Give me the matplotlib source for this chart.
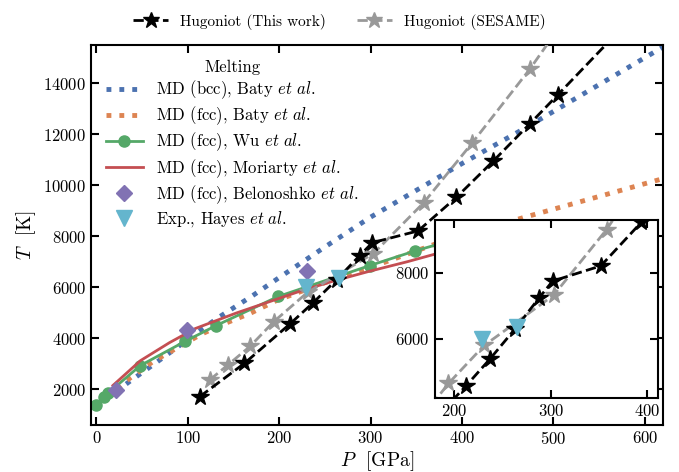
import numpy as np
import matplotlib
matplotlib.use("Agg")
import matplotlib.pyplot as plt

plt.rcParams['font.family'] = 'serif'
plt.rcParams['font.serif'] = ['cmr10', 'DejaVu Serif']
plt.rcParams['mathtext.fontset'] = 'cm'
plt.rcParams['axes.formatter.use_mathtext'] = True
plt.rcParams['font.size'] = 12

# colours (seaborn deep)
c_blue = '#4C72B0'
c_orange = '#DD8452'
c_green = '#55A868'
c_red = '#C44E52'
c_purple = '#8172B3'
c_cyan = '#64B5CD'
c_gray = '#999999'

# Hugoniot, this work
hug_P = [113, 162, 212, 237, 263, 288, 302, 352, 394, 434, 474, 505, 600]
hug_T = [1710, 3020, 4570, 5390, 6300, 7240, 7750, 8210, 9530, 10940, 12400, 13550, 17100]

# Hugoniot, SESAME
ses_P = [124, 144, 168, 194, 231, 303, 358, 411, 474, 540]
ses_T = [2370, 2960, 3680, 4650, 5800, 7320, 9310, 11650, 14540, 17900]

# melting: MD (bcc) Baty
bcc_P = [10, 36, 62, 87, 109, 135, 170, 200, 250, 300, 400, 472, 620]
bcc_T = [1600, 2300, 2960, 3610, 4200, 4850, 5650, 6380, 7580, 8750, 10850, 12300, 15420]

# melting: MD (fcc) Baty
fcc_P = [12, 36, 62, 115, 142, 169, 197, 250, 300, 372, 467, 620]
fcc_T = [1700, 2420, 3090, 4165, 4600, 4990, 5480, 6180, 6780, 7710, 8730, 10260]

# melting: MD (fcc) Wu
wu_P = [0, 8, 13, 48, 97, 131, 199, 299, 349, 400]
wu_T = [1380, 1690, 1860, 2930, 3880, 4500, 5640, 6850, 7430, 7950]

# melting: MD (fcc) Moriarty
mor_P = [18, 48, 80, 108, 153, 193, 223, 260, 299, 340, 372, 420]
mor_T = [2150, 3120, 3830, 4380, 4990, 5480, 5850, 6250, 6630, 7000, 7315, 7750]

# Belonoshko
bel_P = [21, 99, 230]
bel_T = [1990, 4320, 6630]

# Hayes experiment
hay_P = [229, 265]
hay_T = [6000, 6350]

fig = plt.figure(figsize=(6.79, 4.72), dpi=100)
ax = fig.add_axes([0.134, 0.0996, 0.8424, 0.8051])

ax.plot(bcc_P, bcc_T, ':', color=c_blue, lw=3.5, label=r'MD (bcc), Baty $et\ al.$')
ax.plot(fcc_P, fcc_T, ':', color=c_orange, lw=3.5, label=r'MD (fcc), Baty $et\ al.$')
ax.plot(wu_P, wu_T, '-o', color=c_green, lw=2, ms=8, label=r'MD (fcc), Wu $et\ al.$')
ax.plot(mor_P, mor_T, '-', color=c_red, lw=2, label=r'MD (fcc), Moriarty $et\ al.$')
ax.plot(bel_P, bel_T, 'D', color=c_purple, ms=8, ls='none', label=r'MD (fcc), Belonoshko $et\ al.$')
ax.plot(hay_P, hay_T, 'v', color=c_cyan, ms=12, ls='none', label=r'Exp., Hayes $et\ al.$', zorder=5)
l1, = ax.plot(ses_P, ses_T, '--*', color=c_gray, lw=2, ms=13, label='Hugoniot (SESAME)', zorder=3)
l2, = ax.plot(hug_P, hug_T, '--*', color='black', lw=2, ms=13, label='Hugoniot (This work)', zorder=4)

ax.set_xlim(-6, 620)
ax.set_ylim(600, 15500)
ax.set_xticks([0, 100, 200, 300, 400, 500, 600])
ax.set_yticks([2000, 4000, 6000, 8000, 10000, 12000, 14000])
ax.set_xlabel(r'$P$  [GPa]', fontsize=14, labelpad=2)
ax.set_ylabel(r'$T$  [K]', fontsize=14)
ax.tick_params(direction='in', top=True, right=True, length=6, width=1.5, labelsize=12)
for s in ax.spines.values():
    s.set_linewidth(1.5)

h, lab = ax.get_legend_handles_labels()
ax.legend(h[:6], lab[:6], loc='upper left', frameon=False, title='Melting',
          fontsize=12, title_fontsize=12, handlelength=2.2, labelspacing=0.2)
fig.legend([l2, l1], ['Hugoniot (This work)', 'Hugoniot (SESAME)'], loc='upper center',
           bbox_to_anchor=(0.5, 1.0), ncol=2, frameon=False, fontsize=11,
           handlelength=2.3, markerscale=0.9)

# inset
axi = fig.add_axes([0.6406, 0.1561, 0.328, 0.3778])
axi.plot(ses_P, ses_T, '--*', color=c_gray, lw=2, ms=13)
axi.plot(hug_P, hug_T, '--*', color='black', lw=2, ms=13)
axi.plot(hay_P, hay_T, 'v', color=c_cyan, ms=12, ls='none', zorder=5)
axi.set_xlim(180, 411)
axi.set_ylim(4200, 9600)
axi.set_xticks([200, 300, 400])
axi.set_yticks([6000, 8000])
axi.tick_params(direction='in', top=True, right=True, length=6, width=1.5, labelsize=12)
for s in axi.spines.values():
    s.set_linewidth(1.5)

fig.savefig('out.png', dpi=100)
